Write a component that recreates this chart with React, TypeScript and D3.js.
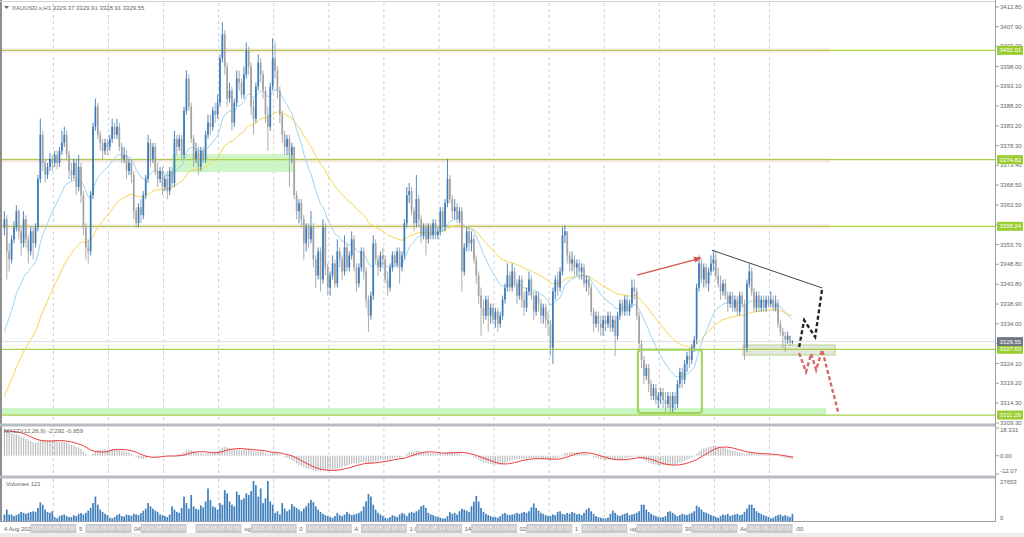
import React from 'react';
import * as d3 from 'd3';

const W = 1024;
const H = 537;
const FONT = '"Liberation Sans", Arial, sans-serif';

// hourly bars per session: [high, low, close] (open = previous close)
const firstOpen = 3358;
const aug04 = [[3362,3356,3360],[3361,3345,3352],[3354,3347,3350],[3356,3349,3355],[3359.5,3354,3358],[3363.5,3357,3362],[3362.5,3355,3357],[3358,3351,3354],[3362,3353,3360],[3361,3353,3355],[3356,3349,3352],[3358,3351,3357],[3358,3350,3354],[3359,3353,3358],[3371,3357,3370],[3385,3369,3381],[3382,3372,3374],[3375,3369,3371],[3374,3370,3373],[3376.5,3372,3375],[3376,3372,3374]];
const aug05 = [[3377,3373,3376],[3377,3372.5,3374],[3378,3373,3377],[3382,3376,3379],[3383,3378,3381],[3382,3375,3376],[3377,3370,3372],[3374,3369.5,3371],[3375,3370,3374],[3375,3366,3368],[3376,3367,3373],[3374,3364,3366],[3367,3356,3358],[3359,3350,3353],[3355,3349,3352],[3367,3351,3366],[3384,3365,3383],[3390,3382,3388],[3389,3380,3381],[3382,3377,3379],[3380,3375,3377],[3380,3376,3379],[3380,3376,3378]];
const aug06 = [[3381,3377,3380],[3385,3379,3383],[3384,3380,3381],[3385,3380,3383],[3384,3377,3378],[3379,3374,3375],[3378,3374,3376],[3377,3370,3372],[3375,3371,3374],[3375,3369,3371],[3372,3360,3362],[3363,3358,3359],[3364,3358,3363],[3365,3359,3361],[3367,3360,3366],[3371,3365,3370],[3381,3369,3379],[3380,3373,3375],[3379,3374,3378],[3379,3371,3372],[3374,3368,3370],[3373,3369,3372],[3373,3366,3368]];
const aug07 = [[3371,3367,3370],[3372,3365,3367],[3373,3366,3372],[3373,3368,3369],[3382,3368,3380],[3381,3376,3378],[3381,3377,3380],[3381,3375,3376],[3388,3375,3387],[3397,3386,3395],[3396,3387,3388],[3389,3379,3380],[3381,3373,3375],[3379,3374,3377],[3378,3371,3373],[3378,3372,3377],[3378,3374,3375],[3382,3374,3381],[3386,3380,3384],[3386,3381,3383],[3388,3382,3387],[3389,3384,3386],[3391,3385,3389]];
const aug08 = [[3401,3388,3400],[3409,3399,3406],[3407,3396,3398],[3399,3388,3390],[3394,3389,3392],[3393,3382,3384],[3390,3383,3389],[3397,3388,3395],[3397,3392,3394],[3395,3390,3391],[3398,3390,3396],[3404,3395,3402],[3403,3396,3398],[3399,3386,3388],[3390,3381,3385],[3394,3384,3393],[3401,3392,3399],[3400,3394,3396],[3397,3390,3392],[3393,3384,3386],[3388,3377,3383],[3394,3382,3393],[3405,3392,3400]];
const aug11 = [[3404,3395,3397],[3398,3390,3392],[3393,3384,3386],[3387,3379,3381],[3382,3376,3378],[3381,3376,3380],[3381,3368,3376],[3379,3374,3378],[3378,3365,3366],[3367,3360,3362],[3365,3359,3364],[3365,3358,3360],[3361,3350,3354],[3359,3352,3358],[3359,3353,3355],[3362,3354,3358],[3359,3348,3350],[3351,3343,3346],[3353,3345,3352],[3353,3342,3345],[3360,3344,3358],[3359,3346,3348],[3349,3341,3343]];
const aug12 = [[3347,3341,3346],[3351,3345,3349],[3350,3343,3344],[3355,3343,3352],[3353,3348,3350],[3351,3345,3347],[3356,3346,3353],[3354,3347,3348],[3352,3347,3351],[3357,3350,3355],[3356,3347,3348],[3349,3342,3344],[3349,3343,3348],[3353,3347,3352],[3353,3345,3347],[3348,3338,3340],[3341,3332,3336],[3342,3335,3341],[3356,3340,3354],[3355,3349,3350],[3351,3346,3348],[3352,3347,3351],[3353,3348,3350]];
const aug13 = [[3351,3344,3345],[3347,3341,3343],[3349,3342,3348],[3352,3347,3351],[3352,3348,3349],[3353,3348,3352],[3353,3344,3348],[3352,3347,3351],[3360,3350,3359],[3368,3358,3366],[3369,3364,3367],[3368,3361,3362],[3363,3357,3359],[3371,3358,3365],[3366,3358,3360],[3361,3354,3356],[3359,3355,3358],[3359,3351,3355],[3359,3354,3358],[3359,3355,3356],[3360,3355,3359],[3360,3355,3356],[3358,3355,3357]];
const aug14 = [[3363,3356,3362],[3363,3357,3358],[3365,3357,3364],[3375,3363,3370],[3371,3364,3365],[3366,3360,3362],[3365,3360,3363],[3364,3359,3360],[3363,3359,3362],[3363,3342,3347],[3354,3346,3353],[3358,3352,3357],[3358,3352,3354],[3357,3352,3355],[3356,3349,3350],[3351,3344,3346],[3347,3339,3341],[3343,3331,3338],[3340,3334,3336],[3341,3335,3340],[3341,3332,3336],[3339,3334,3338],[3339,3334,3335]];
const aug15 = [[3338,3333,3337],[3338,3332,3334],[3337,3333,3336],[3341,3335,3340],[3344,3339,3343],[3349,3342,3346],[3347,3342,3343],[3349,3342,3347],[3348,3343,3344],[3345,3339,3341],[3346,3340,3345],[3346,3338,3340],[3342,3336,3338],[3343,3337,3342],[3347,3341,3345],[3346,3340,3341],[3342,3335,3337],[3342,3336,3341],[3342,3337,3339],[3340,3334,3336],[3339,3334,3338],[3339,3333,3335],[3337,3331,3334]];
const aug18 = [[3335,3326,3328],[3343,3324,3342],[3346,3340,3345],[3347,3341,3343],[3348,3342,3347],[3358,3346,3356],[3358.5,3354,3357],[3357,3349,3351],[3352,3347,3349],[3352,3347,3350],[3351,3346,3348],[3350,3346,3349],[3350,3345,3347],[3349,3345,3348],[3349,3343,3344],[3346,3342,3345],[3346,3341,3343],[3344,3336,3337],[3338,3332,3334],[3337,3333,3336],[3337,3332,3334],[3336,3331,3333],[3336,3331,3335]];
const aug19 = [[3336,3332,3334],[3337,3333,3336],[3337,3332,3333],[3336,3332,3335],[3336,3326,3331],[3337,3330,3336],[3340,3335,3339],[3340,3336,3337],[3341,3336,3340],[3341,3336,3337],[3340,3336,3339],[3345,3338,3343],[3345,3340,3342],[3343,3335,3336],[3337,3327,3329],[3330,3323,3325],[3326,3319,3321],[3324,3320,3323],[3324,3317,3319],[3320,3315,3316],[3319,3315,3318],[3319,3314,3315],[3317,3313,3316]];
const aug20 = [[3318,3314,3317],[3318,3313,3315],[3317,3312,3314],[3317,3313,3316],[3317,3311.5,3313],[3317,3312,3316],[3317,3312.5,3314],[3320,3313,3319],[3323,3318,3322],[3323,3318,3320],[3325,3319,3324],[3327,3322,3326],[3328,3323,3325],[3329,3324,3328],[3331,3327,3330],[3344,3329,3343],[3351,3342,3349],[3350,3344,3345],[3349,3343,3348],[3349,3343,3344],[3348,3342,3347],[3351,3346,3349],[3352,3347,3350]];
const aug21 = [[3352,3345,3346],[3348,3343,3344],[3346,3340,3342],[3345,3341,3344],[3345,3340,3341],[3342,3337,3339],[3342,3338,3341],[3342,3337,3338],[3341,3337,3340],[3341,3336,3337],[3342,3336,3341],[3342,3338,3339],[3340,3325,3328],[3345,3327,3344],[3349,3343,3347],[3348,3341,3342],[3343,3337,3338],[3342,3337,3341],[3342,3337,3338],[3341,3337,3340],[3341,3337,3338],[3341,3337,3340],[3341,3338,3339]];
const aug22 = [[3342,3338,3340],[3341,3337,3338],[3341,3337,3339],[3340,3333,3334],[3335,3331,3332],[3333,3328,3331],[3332,3327,3330],[3332,3329,3331],[3331,3328.5,3329.37],[3329.91,3328.91,3329.55]];
const sessions = [aug04, aug05, aug06, aug07, aug08, aug11, aug12, aug13, aug14, aug15, aug18, aug19, aug20, aug21, aug22];

// tick volumes per session
const vol04 = [4500,7880,4500,4500,3380,4050,4950,6300,5630,4950,5630,6300,6750,6300,9000,12830,11250,7880,6300,5630,6750];
const vol05 = [2700,1800,3380,4050,4500,3380,2700,2700,4050,3380,4950,5630,4500,5630,7200,9000,12380,16880,11250,7880,6300,4950,4050];
const vol06 = [2250,1800,2700,4050,4950,3380,3150,4500,4050,3600,4950,4500,4050,5400,7200,8550,12380,10130,8550,7200,6300,4500,4050];
const vol07 = [3380,2700,4500,10130,7880,6300,5630,9000,16880,12380,8550,18000,10130,8550,7880,10800,9450,13500,22500,14630,10130,9450,7880];
const vol08 = [12380,11250,21380,19130,13500,11250,10130,20250,18000,14630,15750,19130,18000,20700,27650,24750,16880,22500,12380,15750,27650,13500,11250];
const vol11 = [5630,6750,4500,12380,8550,6750,7880,11700,10130,9000,7880,6750,8550,10130,12380,14630,13050,10130,7880,6300,4950,4050,3380];
const vol12 = [2700,2250,3380,5630,4050,3380,4500,6300,4950,4050,4500,4950,5630,6750,10130,13500,18680,16880,11250,7880,5630,4500,3380];
const vol13 = [2250,1800,2700,4050,3380,2700,4500,5630,4950,3380,5630,6300,5630,6750,7880,10130,11030,9000,5630,4500,4050,3380,2700];
const vol14 = [2250,1800,1800,3380,6080,4950,5630,4500,6750,8330,7880,7200,6300,10130,13280,17330,13500,9000,6300,4950,4050,3380,2700];
const vol15 = [2700,2250,3380,4950,5630,4500,4050,4500,4950,5630,4950,5630,6300,5630,6750,9450,12150,9000,7200,5630,4950,4050,3380];
const vol18 = [3380,4500,4050,6300,6750,4950,4500,5630,4950,6300,5630,4500,4950,4050,5630,7880,9000,6750,4950,3380,2700,2250,1800];
const vol19 = [1800,2250,4950,7200,5630,4050,3380,4500,4950,5630,4050,4500,4950,5630,6750,11250,11250,7880,6300,4950,4050,3380,2700];
const vol20 = [2250,2700,3380,6300,6750,5630,4500,3380,4050,4950,4500,4050,4950,5630,6750,10580,9450,7880,6300,5630,4950,4050,3380];
const vol21 = [2700,2250,3380,4500,4050,4950,3380,4050,4500,4950,4050,4500,6300,8550,11250,11250,9000,6750,5630,4950,4050,3380,2700];
const vol22 = [1800,2250,3380,4050,4500,3380,4050,3380,2700,4950];
const volumes = [vol04, vol05, vol06, vol07, vol08, vol11, vol12, vol13, vol14, vol15, vol18, vol19, vol20, vol21, vol22].flat();

const sessionLabels = ['2025.08.05 00:00','2025.08.06 00:00','2025.08.07 00:00','2025.08.08 00:00','2025.08.11 00:00','2025.08.12 00:00','2025.08.13 00:00','2025.08.14 00:00','2025.08.15 00:00','2025.08.18 00:00','2025.08.19 00:00','2025.08.20 00:00','2025.08.21 00:00','2025.08.22 00:00'];
const timeFragments = ['5','04','','ug','0','A','1:0','14','02','1','ug','30','Au',':00'];

const priceTicks = ['3412.80','3407.90','3403.00','3398.00','3393.10','3388.20','3383.20','3378.30','3373.40','3368.50','3363.50','3358.60','3353.70','3348.80','3343.80','3338.90','3334.00','3329.10','3324.10','3319.20','3314.30','3309.30'];
const levels = [3402.01, 3374.82, 3358.24, 3327.63, 3311.28];
const bandLevels = [3402.01, 3374.82, 3358.24];
const lastPrice = 3329.55;

// indicator starting values
const emaFastSeed = 3332;
const emaSlowSeed = 3316;
const macdSeed = { fast: 3349, slow: 3331, signal: 16 };
const macdTicks = ['18.331', '0.00', '-12.07'];
const volTicks = ['27653', '0'];

// annotations, [bar index, price]
const redArrow = [[264.1, 3346.1], [290.8, 3350.35]];
const trendLine = [[295.4, 3352.3], [341.4, 3342.9]];
const bullPath = [[331.8, 3328.2], [333.9, 3334.9], [338.5, 3330.7], [341.4, 3342.6]];
const bearPath = [[331.8, 3326.7], [334.7, 3322.0], [336.8, 3326.5], [338.9, 3322.5], [341.4, 3327.5], [348.1, 3312.0]];

const ema = (vals: number[], period: number, seed: number) => {
  const k = 2 / (period + 1);
  let e = seed;
  return vals.map((v, i) => (i === 0 ? e : (e = e + k * (v - e))));
};

const App = () => {
  const bars: { o: number; h: number; l: number; c: number }[] = [];
  const starts: number[] = [];
  let prev = firstOpen;
  sessions.forEach((s) => {
    starts.push(bars.length);
    s.forEach(([h, l, c]) => {
      bars.push({ o: prev, h: Math.max(h, prev, c), l: Math.min(l, prev, c), c });
      prev = c;
    });
  });
  const closes = bars.map((b) => b.c);
  const fastMa = ema(closes, 20, emaFastSeed);
  const slowMa = ema(closes, 50, emaSlowSeed);
  const e12 = ema(closes, 12, macdSeed.fast);
  const e26 = ema(closes, 26, macdSeed.slow);
  const macd = e12.map((v, i) => v - e26[i]);
  const signal = macd.map((_, i) => {
    let s = 0;
    for (let j = i - 8; j <= i; j++) s += j < 0 ? macdSeed.signal : macd[j];
    return s / 9;
  });

  const x = d3.scaleLinear().domain([-1, 414]).range([2, 996]);
  const y = d3.scaleLinear().domain([3309.3, 3412.8]).range([423, 7]);
  const yM = d3.scaleLinear().domain([-12.07, 18.331]).range([474, 428]);
  const yV = d3.scaleLinear().domain([0, 27653]).range([521, 481]);
  const bw = 1.7;

  const line = d3.line<number>().x((_, i) => x(i)).y((v) => y(v));
  const ptLine = d3.line<number[]>().x((p) => x(p[0])).y((p) => y(p[1]));
  const sigLine = d3.line<number>().x((_, i) => x(i)).y((v) => yM(v));

  const gridX = starts.slice(1).map((s) => x(s - 0.55));
  const bandEnd = x(344.7);

  const axisText = { fontFamily: FONT, fontSize: 6, fill: '#666' } as const;

  return (
    <svg width={W} height={H} style={{ position: 'absolute', left: 0, top: 0, background: '#fff' }}>
      <defs>
        <marker id="ah" viewBox="0 0 10 10" refX="9" refY="5" markerWidth="6" markerHeight="6" orient="auto">
          <path d="M0,1 L10,5 L0,9 z" fill="#d9534f" />
        </marker>
      </defs>
      <rect x={0} y={533} width={W} height={4} fill="#ececec" />

      {/* vertical grid */}
      {gridX.map((gx, i) => (
        <g key={i} stroke="#cfcfcf" strokeDasharray="3,3" strokeWidth={1}>
          <line x1={gx} x2={gx} y1={3} y2={423} />
          <line x1={gx} x2={gx} y1={428} y2={475} />
          <line x1={gx} x2={gx} y1={479} y2={521} />
        </g>
      ))}

      {/* zones */}
      {bandLevels.map((lv) => (
        <rect key={lv} x={2} width={bandEnd - 2} y={Math.round(y(lv)) - 2} height={5} fill="#fcedef" />
      ))}
      <rect x={x(70)} width={x(120.5) - x(70)} y={y(3376.2)} height={y(3371.7) - y(3376.2)} fill="#c6f3bd" opacity={0.85} />
      <rect x={x(-1)} width={x(343) - x(-1)} y={y(3313)} height={y(3311.28) - y(3313)} fill="#c9f5c0" />
      <rect x={x(308.4)} width={x(346.8) - x(308.4)} y={y(3328.7)} height={y(3326.2) - y(3328.7)} fill="#dfe4d8" stroke="#a9cc6e" strokeWidth={1} opacity={0.85} />

      {/* levels */}
      <line x1={2} x2={996} y1={y(lastPrice)} y2={y(lastPrice)} stroke="#dcdcee" strokeWidth={1} />
      {levels.map((lv) => (
        <line key={lv} x1={2} x2={996} y1={y(lv)} y2={y(lv)} stroke="#a6d04a" strokeWidth={1.3} />
      ))}

      {/* moving averages */}
      <path d={line(slowMa) || ''} fill="none" stroke="#f7d54a" strokeWidth={1} />
      <path d={line(fastMa) || ''} fill="none" stroke="#9dd3f0" strokeWidth={1} />

      {/* candles */}
      {bars.map((b, i) => {
        const up = b.c >= b.o;
        const col = up ? '#3b7bbb' : '#a3a3a3';
        const top = y(Math.max(b.o, b.c));
        const hgt = Math.max(1, y(Math.min(b.o, b.c)) - top);
        return (
          <g key={i}>
            <line x1={x(i)} x2={x(i)} y1={y(b.h)} y2={y(b.l)} stroke={col} strokeWidth={0.9} />
            <rect x={x(i) - bw / 2} y={top} width={bw} height={hgt} fill={col} />
          </g>
        );
      })}

      {/* annotations */}
      <rect x={x(264.5)} width={x(291.2) - x(264.5)} y={y(3327.5)} height={y(3311.8) - y(3327.5)} rx={3} fill="none" stroke="#9fd35a" strokeWidth={2} />
      <path d={ptLine(redArrow) || ''} stroke="#d9534f" strokeWidth={1.3} fill="none" markerEnd="url(#ah)" />
      <path d={ptLine(trendLine) || ''} stroke="#444" strokeWidth={1} fill="none" />
      <path d={ptLine(bearPath) || ''} stroke="#d46a66" strokeWidth={2.4} strokeDasharray="4,2.5" fill="none" />
      <path d={ptLine(bullPath) || ''} stroke="#262626" strokeWidth={2.4} strokeDasharray="4,2.5" fill="none" />

      {/* MACD */}
      {macd.map((v, i) => (
        <rect key={i} x={x(i) - 0.6} width={1.2} y={Math.min(yM(v), yM(0))} height={Math.abs(yM(v) - yM(0))} fill="#bdbdbd" />
      ))}
      <path d={sigLine(signal) || ''} fill="none" stroke="#f03a3a" strokeWidth={1} />

      {/* volumes */}
      {volumes.map((v, i) => (
        <rect key={i} x={x(i) - 0.85} width={1.7} y={yV(v)} height={yV(0) - yV(v)} fill="#3f7fbd" />
      ))}

      {/* frame & separators */}
      <rect x={0} y={0} width={2} height={522} fill="#8e8e8e" />
      <line x1={0} x2={996} y1={1.5} y2={1.5} stroke="#d0d0d0" />
      <rect x={0} y={423.5} width={996} height={3} fill="#b7bcc2" />
      <rect x={0} y={475.5} width={996} height={3} fill="#b7bcc2" />
      <line x1={0} x2={996} y1={521.5} y2={521.5} stroke="#9aa0a6" />
      <line x1={995.5} x2={995.5} y1={0} y2={522} stroke="#9aa0a6" />

      {/* price axis */}
      {priceTicks.map((t) => (
        <g key={t}>
          <line x1={996} x2={999} y1={y(+t)} y2={y(+t)} stroke="#9aa0a6" />
          <text x={1000} y={y(+t)} dy="0.35em" {...axisText}>{t}</text>
        </g>
      ))}
      {levels.map((lv) => (
        <g key={lv}>
          <rect x={997} y={y(lv) - 4.5} width={26} height={9} fill="#9acd32" />
          <text x={999.5} y={y(lv)} dy="0.35em" {...axisText} fill="#fff">{lv.toFixed(2)}</text>
        </g>
      ))}
      <rect x={997} y={y(lastPrice) - 4.5} width={26} height={9} fill="#6f7782" />
      <text x={999.5} y={y(lastPrice)} dy="0.35em" {...axisText} fill="#fff">{lastPrice.toFixed(2)}</text>

      {macdTicks.map((t, i) => (
        <g key={t}>
          <line x1={996} x2={999} y1={yM(+t)} y2={yM(+t)} stroke="#9aa0a6" />
          <text x={1000} y={i === 0 ? 430 : i === 2 ? 471 : yM(0)} dy="0.35em" {...axisText}>{t}</text>
        </g>
      ))}
      {volTicks.map((t, i) => (
        <text key={t} x={1000} y={i === 0 ? 482 : 518} dy="0.35em" {...axisText}>{t}</text>
      ))}

      {/* labels */}
      <path d="M4,6 L9,6 L6.5,9 z" fill="#666" />
      <text x={12} y={9.5} {...axisText}>XAUUSD.s,H1  3329.37 3329.91 3328.91 3329.55</text>
      <text x={4} y={433} {...axisText}>MACD(12,26,9) -2.292 -0.959</text>
      <text x={6} y={486} {...axisText}>Volumes 121</text>

      {/* time axis */}
      <text x={4} y={530.5} {...axisText}>4 Aug 2025</text>
      {gridX.map((gx, i) => (
        <g key={i}>
          <text x={gx + 25.5} y={530.5} {...axisText}>{timeFragments[i]}</text>
          <rect x={gx - 23} y={524} width={46} height={9} fill="#cbcbcb" />
          <text x={gx} y={528.5} dy="0.35em" textAnchor="middle" fontFamily={FONT} fontSize={5.6} fill="#f6f6f6">{sessionLabels[i]}</text>
        </g>
      ))}
    </svg>
  );
};

export default App;
